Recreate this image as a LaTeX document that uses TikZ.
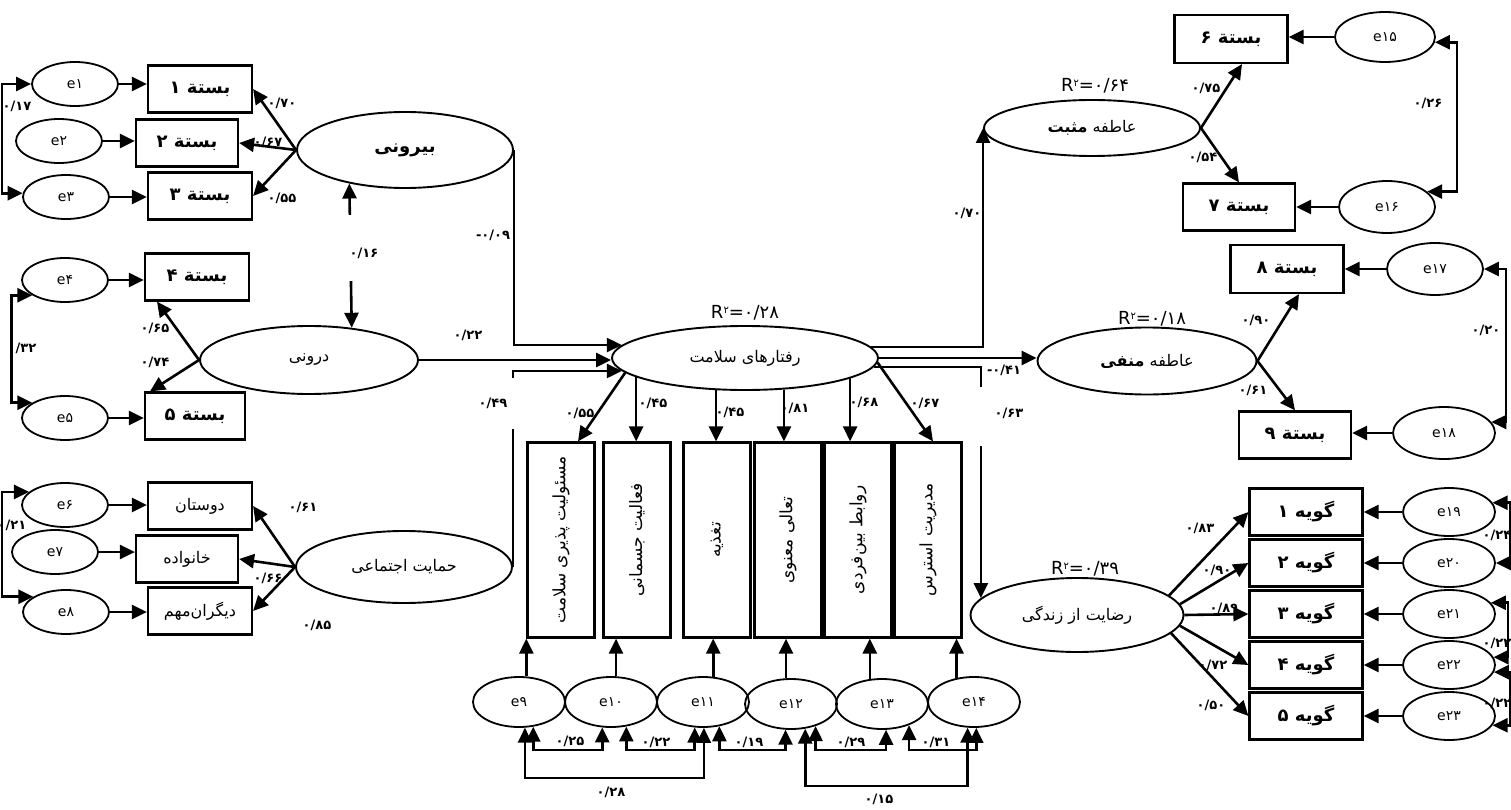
\documentclass[tikz,border=0pt]{standalone}
\usepackage{fontspec}
\usetikzlibrary{arrows.meta, shapes.geometric}
\newfontfamily\fa[Script=Arabic]{DejaVu Sans}
\newfontfamily\fanum{DejaVu Sans}
\TeXXeTstate=1
\newcommand{\rtl}[1]{\beginR #1\endR}
\newcommand{\rsquare}[1]{R\raisebox{0.55ex}{\fontsize{10}{10}\selectfont ۲}=#1}

\tikzset{
  err/.style={ellipse, draw, line width=1.8pt, inner sep=0pt, minimum width=86pt, minimum height=44pt, font=\fanum\fontsize{14}{16}\selectfont},
  errb/.style={err, minimum width=92pt, minimum height=50pt},
  lat/.style={ellipse, draw, line width=1.9pt, inner sep=0pt, font=\fa\fontsize{16}{19}\selectfont},
  ind/.style={rectangle, draw, line width=2.2pt, inner sep=0pt, minimum width=104pt, minimum height=47pt, font=\fa\bfseries\fontsize{18}{21}\selectfont},
  soc/.style={ind, font=\fa\fontsize{16}{19}\selectfont},
  gob/.style={ind, minimum width=113pt},
  sub/.style={rectangle, draw, line width=2.2pt, inner sep=0pt, minimum width=67pt, minimum height=195pt, font=\fa\fontsize{17}{19}\selectfont},
  coef/.style={inner sep=1pt, font=\fanum\bfseries\fontsize{13}{15}\selectfont},
  rsq/.style={inner sep=1pt, font=\fanum\fontsize{18}{20}\selectfont},
  arr/.style={line width=2.6pt, -{Triangle[length=15pt,width=14pt]}},
  cov/.style={line width=2.6pt, {Triangle[length=15pt,width=14pt]}-{Triangle[length=15pt,width=14pt]}},
  gap/.style={fill=white, inner sep=0pt, minimum width=8pt},
}

\begin{document}
\begin{tikzpicture}[x=1pt, y=-1pt]
  \useasboundingbox (0,0) rectangle (1511,810);

  % left side
  \node[err] (e1) at (75,84) {e۱};
  \node[err] (e2) at (59,141) {e۲};
  \node[err] (e3) at (66,197) {e۳};
  \node[ind] (b1) at (200,89) {\rtl{بستة ۱}};
  \node[ind, minimum width=102pt] (b2) at (187,143) {\rtl{بستة ۲}};
  \node[ind] (b3) at (200,196) {\rtl{بستة ۳}};
  \node[lat, minimum width=216pt, minimum height=76pt, font=\fa\bfseries\fontsize{18}{20}\selectfont] (biruni) at (405,150) {\rtl{بیرونی}};

  \node[err] (e4) at (65,280) {e۴};
  \node[err] (e5) at (65,418) {e۵};
  \node[ind] (b4) at (197,277) {\rtl{بستة ۴}};
  \node[ind, minimum width=100pt] (b5) at (195,416) {\rtl{بستة ۵}};
  \node[lat, minimum width=218pt, minimum height=68pt] (daruni) at (309,360) {\rtl{درونی}};

  \node[err] (e6) at (65,505) {e۶};
  \node[err] (e7) at (55,552) {e۷};
  \node[err] (e8) at (66,612) {e۸};
  \node[soc] (f1) at (200,506) {\rtl{دوستان}};
  \node[soc, minimum width=102pt] (f2) at (187,559) {\rtl{خانواده}};
  \node[soc] (f3) at (200,611) {\rtl{دیگران‌مهم}};
  \node[lat, minimum width=216pt, minimum height=72pt] (hemayat) at (404,567) {\rtl{حمایت اجتماعی}};

  \draw[arr] (e1.east) -- (e1.east -| b1.west);
  \draw[arr] (e2.east) -- (e2.east -| b2.west);
  \draw[arr] (e3.east) -- (e3.east -| b3.west);
  \draw[arr] (e4.east) -- (e4.east -| b4.west);
  \draw[arr] (e5.east) -- (e5.east -| b5.west);
  \draw[arr] (e6.east) -- (e6.east -| f1.west);
  \draw[arr] (e7.east) -- (e7.east -| f2.west);
  \draw[arr] (e8.east) -- (e8.east -| f3.west);
  \draw[cov] (e1.west) -- ++(-29,0) |- (e3.175);
  \draw[cov] (e4.205) -- ++(-21,0) |- (e5.155);
  \draw[cov] (e6.160) -- ++(-27,0) |- (e8.155);

  \draw[arr] (biruni.west) -- (b1.east);
  \draw[arr] (biruni.west) -- (b2.east);
  \draw[arr] (biruni.west) -- (b3.east);
  \draw[arr] (daruni.west) -- ([xshift=-40pt]b4.south);
  \draw[arr] (daruni.west) -- ([xshift=-45pt]b5.north);
  \draw[arr] (hemayat.west) -- (f1.east);
  \draw[arr] (hemayat.west) -- (f2.east);
  \draw[arr] (hemayat.west) -- (f3.east);
  \draw[cov] (biruni.211) -- (daruni.37) node[gap, pos=.45, minimum height=66pt] {};

  \node[coef] (k1) at (17,106) {۰/۱۷};
  \node[coef] (k2) at (282,103) {۰/۷۰};
  \node[coef] (k3) at (268,142) {۰/۶۷};
  \node[coef] (k4) at (282,198) {۰/۵۵};
  \node[coef] (k5) at (364,253) {۰/۱۶};
  \node[coef] (k6) at (155,328) {۰/۶۵};
  \node[coef] (k7) at (155,362) {۰/۷۴};
  \node[coef] (k8) at (22,348) {۰/۳۲};
  \node[coef] (k9) at (12,525) {۰/۲۱};
  \node[coef] (k10) at (303,507) {۰/۶۱};
  \node[coef] (k11) at (268,578) {۰/۶۶};
  \node[coef] (k12) at (317,625) {۰/۸۵};

  % health behaviours
  \node[lat, minimum width=266pt, minimum height=64pt] (rafter) at (745,358) {\rtl{رفتارهای سلامت}};
  \node[rsq] (r1) at (745,313) {\rsquare{۰/۲۸}};

  \draw[arr] (biruni.east) |- (rafter.174);
  \draw[arr] (daruni.east) -- (daruni.east -| rafter.west);
  \draw[arr] (hemayat.east) |- (rafter.186) node[gap, pos=.417, minimum height=51pt] {};
  \node[coef] (k13) at (493,235) {-۰/۰۹};
  \node[coef] (k14) at (468,335) {۰/۲۲};
  \node[coef] (k15) at (493,403) {۰/۴۹};

  \node[sub] (s1) at (561,540) {\rotatebox{90}{\rtl{مسئولیت پذیری سلامت}}};
  \node[sub] (s2) at (637,540) {\rotatebox{90}{\rtl{فعالیت جسمانی}}};
  \node[sub] (s3) at (717,540) {\rotatebox{90}{\rtl{تغذیه}}};
  \node[sub] (s4) at (788,540) {\rotatebox{90}{\rtl{تعالی معنوی}}};
  \node[sub] (s5) at (858,540) {\rotatebox{90}{\rtl{روابط بین‌فردی}}};
  \node[sub] (s6) at (928,540) {\rotatebox{90}{\rtl{مدیریت استرس}}};

  \draw[arr] (rafter.187) -- ([xshift=17pt]s1.north);
  \draw[arr] (rafter.190) -- (rafter.190 |- s2.north);
  \draw[arr] (rafter.228) -- (rafter.228 |- s3.north);
  \draw[arr] (rafter.321) -- (rafter.321 |- s4.north);
  \draw[arr] (rafter.349) -- (rafter.349 |- s5.north);
  \draw[arr] (rafter.358) -- ([xshift=5pt]s6.north);
  \node[coef] (k16) at (580,413) {۰/۵۵};
  \node[coef] (k17) at (653,403) {۰/۴۵};
  \node[coef] (k18) at (730,412) {۰/۴۵};
  \node[coef] (k19) at (795,408) {۰/۸۱};
  \node[coef] (k20) at (864,402) {۰/۶۸};
  \node[coef] (k21) at (925,403) {۰/۶۷};

  \node[errb] (e9) at (519,702) {e۹};
  \node[errb] (e10) at (611,702) {e۱۰};
  \node[errb] (e11) at (703,702) {e۱۱};
  \node[errb] (e12) at (791,704) {e۱۲};
  \node[errb] (e13) at (882,704) {e۱۳};
  \node[errb] (e14) at (974,702) {e۱۴};

  \draw[arr] (e9.74) -- (e9.74 |- s1.south);
  \draw[arr] (e10.79) -- (e10.79 |- s2.south);
  \draw[arr] (e11.68) -- (e11.68 |- s3.south);
  \draw[arr] (e12.101) -- (e12.101 |- s4.south);
  \draw[arr] (e13.116) -- (e13.116 |- s5.south);
  \draw[arr] (e14.126) -- (e14.126 |- s6.south);

  \draw[cov] (e9.283) -- (e9.283 |- 0,778) -| (e11.272);
  \draw[cov] (e9.300) -- (e9.300 |- 0,750) -| (e10.251);
  \draw[cov] (e10.302) -- (e10.302 |- 0,750) -| (e11.252);
  \draw[cov] (e11.304) -- (e11.304 |- 0,750) -| (e12.258);
  \draw[cov] (e12.300) -- (e12.300 |- 0,786) -| (e14.256);
  \draw[cov] (e12.318) -- (e12.318 |- 0,750) -| (e13.279);
  \draw[cov] (e13.322) -- (e13.322 |- 0,750) -| (e14.275);
  \node[coef] (k22) at (570,741) {۰/۲۵};
  \node[coef] (k23) at (656,742) {۰/۲۲};
  \node[coef] (k24) at (749,742) {۰/۱۹};
  \node[coef] (k25) at (851,742) {۰/۲۹};
  \node[coef] (k26) at (936,742) {۰/۳۱};
  \node[coef] (k27) at (611,792) {۰/۲۸};
  \node[coef] (k28) at (879,799) {۰/۱۵};

  % positive affect
  \node[lat, minimum width=216pt, minimum height=56pt] (mosbat) at (1092,128) {\rtl{عاطفه \textbf{مثبت}}};
  \node[rsq] (r2) at (1095,86) {\rsquare{۰/۶۴}};
  \node[ind, minimum width=113pt, minimum height=48pt] (b6) at (1231,39) {\rtl{بستة ۶}};
  \node[ind, minimum width=112pt] (b7) at (1239,207) {\rtl{بستة ۷}};
  \node[err, minimum width=100pt, minimum height=50pt] (e15) at (1385,37) {e۱۵};
  \node[err, minimum width=96pt, minimum height=52pt] (e16) at (1387,207) {e۱۶};

  \draw[arr] (rafter.5) -| (mosbat.west);
  \draw[arr] (mosbat.east) -- ([xshift=11pt]b6.south);
  \draw[arr] (mosbat.east) -- (b7.north);
  \draw[arr] (e15.west) -- (e15.west -| b6.east);
  \draw[arr] (e16.west) -- (e16.west -| b7.east);
  \draw[cov] (e15.354) -- (e15.354 -| 1457,0) |- (e16.21);
  \node[coef] (k29) at (967,213) {۰/۷۰};
  \node[coef] (k30) at (1206,88) {۰/۷۵};
  \node[coef] (k31) at (1203,157) {۰/۵۴};
  \node[coef] (k32) at (1428,103) {۰/۲۶};

  % negative affect
  \node[lat, minimum width=219pt, minimum height=67pt] (manfi) at (1147,361) {\rtl{عاطفه \textbf{منفی}}};
  \node[rsq] (r3) at (1152,319) {\rsquare{۰/۱۸}};
  \node[ind, minimum width=113pt, minimum height=48pt] (b8) at (1287,269) {\rtl{بستة ۸}};
  \node[ind, minimum width=112pt] (b9) at (1295,435) {\rtl{بستة ۹}};
  \node[err, minimum width=96pt, minimum height=52pt] (e17) at (1435,269) {e۱۷};
  \node[err, minimum width=102pt, minimum height=52pt] (e18) at (1444,433) {e۱۸};

  \draw[arr] (rafter.east) -- (rafter.east -| manfi.west);
  \draw[arr] (manfi.east) -- ([xshift=12pt]b8.south);
  \draw[arr] (manfi.east) -- (b9.north);
  \draw[arr] (e17.west) -- (e17.west -| b8.east);
  \draw[arr] (e18.west) -- (e18.west -| b9.east);
  \draw[cov] (e17.east) -- (e17.east -| 1506,0) |- (e18.13);
  \node[coef] (k33) at (1004,370) {-۰/۴۱};
  \node[coef] (k34) at (1256,320) {۰/۹۰};
  \node[coef] (k35) at (1253,390) {۰/۶۱};
  \node[coef] (k36) at (1486,330) {۰/۲۰};

  % life satisfaction
  \node[lat, minimum width=213pt, minimum height=74pt] (rezayat) at (1077,615) {\rtl{رضایت از زندگی}};
  \node[rsq] (r4) at (1085,569) {\rsquare{۰/۳۹}};
  \draw[arr] (rafter.356) -| (rezayat.170) node[gap, pos=.608, minimum height=59pt] {};
  \node[coef] (k37) at (1009,413) {۰/۶۳};

  \node[gob] (g1) at (1306,512) {\rtl{گویه ۱}};
  \node[gob] (g2) at (1306,563) {\rtl{گویه ۲}};
  \node[gob] (g3) at (1306,614) {\rtl{گویه ۳}};
  \node[gob] (g4) at (1306,665) {\rtl{گویه ۴}};
  \node[gob] (g5) at (1306,716) {\rtl{گویه ۵}};
  \node[err, minimum width=92pt, minimum height=48pt] (e19) at (1449,512) {e۱۹};
  \node[err, minimum width=92pt, minimum height=48pt] (e20) at (1449,563) {e۲۰};
  \node[err, minimum width=92pt, minimum height=48pt] (e21) at (1449,614) {e۲۱};
  \node[err, minimum width=92pt, minimum height=48pt] (e22) at (1449,665) {e۲۲};
  \node[err, minimum width=92pt, minimum height=48pt] (e23) at (1449,716) {e۲۳};

  \draw[arr] (rezayat.12) -- (g1.west);
  \draw[arr] (rezayat.6) -- (g2.west);
  \draw[arr] (rezayat.east) -- (g3.west);
  \draw[arr] (rezayat.354) -- (g4.west);
  \draw[arr] (rezayat.349) -- (g5.west);
  \draw[arr] (e19.west) -- (e19.west -| g1.east);
  \draw[arr] (e20.west) -- (e20.west -| g2.east);
  \draw[arr] (e21.west) -- (e21.west -| g3.east);
  \draw[arr] (e22.west) -- (e22.west -| g4.east);
  \draw[arr] (e23.west) -- (e23.west -| g5.east);
  \draw[cov] (e19.12) -- (e19.12 -| 1510,0) |- (e20.east);
  \draw[cov] (e21.15) -- (e21.15 -| 1508,0) |- (e22.10);
  \draw[cov] (e22.351) -- (e22.351 -| 1510,0) |- (e23.348);
  \node[coef] (k38) at (1200,528) {۰/۸۳};
  \node[coef] (k39) at (1217,570) {۰/۹۰};
  \node[coef] (k40) at (1224,608) {۰/۸۹};
  \node[coef] (k41) at (1213,665) {۰/۷۲};
  \node[coef] (k42) at (1211,705) {۰/۵۰};
  \node[coef] (k43) at (1497,535) {۰/۲۴};
  \node[coef] (k44) at (1497,643) {۰/۲۲};
  \node[coef] (k45) at (1497,703) {۰/۲۲};
\end{tikzpicture}
\end{document}
